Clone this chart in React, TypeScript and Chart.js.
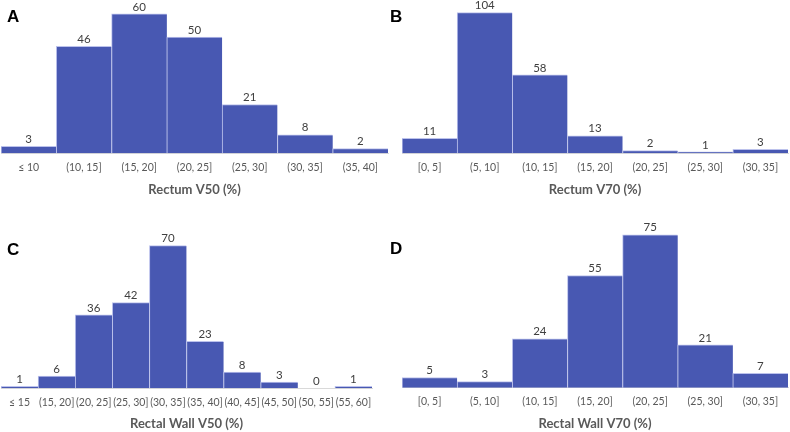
import React, { useEffect, useRef } from "react";
import { Chart, registerables } from "chart.js";

Chart.register(...registerables);

// ---- data ----
const catsA = ["≤ 10", "(10, 15]", "(15, 20]", "(20, 25]", "(25, 30]", "(30, 35]", "(35, 40]"];
const valsA = [3, 46, 60, 50, 21, 8, 2];

const catsB = ["[0, 5]", "(5, 10]", "(10, 15]", "(15, 20]", "(20, 25]", "(25, 30]", "(30, 35]"];
const valsB = [11, 104, 58, 13, 2, 1, 3];

const catsC = ["≤ 15", "(15, 20]", "(20, 25]", "(25, 30]", "(30, 35]", "(35, 40]", "(40, 45]", "(45, 50]", "(50, 55]", "(55, 60]"];
const valsC = [1, 6, 36, 42, 70, 23, 8, 3, 0, 1];

const catsD = ["[0, 5]", "(5, 10]", "(10, 15]", "(15, 20]", "(20, 25]", "(25, 30]", "(30, 35]"];
const valsD = [5, 3, 24, 55, 75, 21, 7];

const titleA = "Rectum V50 (%)";
const titleB = "Rectum V70 (%)";
const titleC = "Rectal Wall V50 (%)";
const titleD = "Rectal Wall V70 (%)";

// ---- style ----
const BAR = "#4858B2";
const BAR_EDGE = "#BCC2EC";
const AXIS = "#D9D9D9";
const TICK = "#595959";
const LABEL = "#404040";
const FONT = "Lato, 'Open Sans', sans-serif";

const W = 395;
const H = 216;

type PanelProps = {
  labels: string[];
  values: number[];
  title: string;
  left: number;
  top: number;
  yMax: number;
  padLeft: number;
  padRight: number;
  baseline: number; // y of baseline in canvas
  tickOff: number;
  titleOff: number;
};

const dataLabels = {
  id: "dataLabels",
  afterDatasetsDraw(chart: any) {
    const ctx = chart.ctx;
    const meta = chart.getDatasetMeta(0);
    const ds = chart.data.datasets[0];
    ctx.save();
    ctx.font = `11.5px ${FONT}`;
    ctx.fillStyle = LABEL;
    ctx.textAlign = "center";
    ctx.textBaseline = "middle";
    meta.data.forEach((el: any, i: number) => {
      ctx.fillText(String(ds.data[i]), el.x, el.y - 7);
    });
    ctx.restore();
  },
};

function Panel(p: PanelProps) {
  const ref = useRef<HTMLCanvasElement>(null);
  useEffect(() => {
    if (!ref.current) return;
    const axisH = H - p.baseline;
    const tickFont = 10.5;
    const tickLH = tickFont * 1.2;
    const titleFont = 13;
    const titleLH = titleFont * 1.2;
    const chart = new Chart(ref.current, {
      type: "bar",
      data: {
        labels: p.labels,
        datasets: [
          {
            data: p.values,
            backgroundColor: BAR,
            borderColor: BAR_EDGE,
            borderWidth: { top: 1, left: 1, right: 0, bottom: 0 },
            borderSkipped: false,
            barPercentage: 1,
            categoryPercentage: 1,
          },
        ],
      },
      options: {
        animation: false,
        responsive: false,
        devicePixelRatio: 1,
        layout: { padding: { left: p.padLeft, right: p.padRight, top: 0, bottom: 0 } },
        plugins: { legend: { display: false }, tooltip: { enabled: false } },
        scales: {
          y: { display: false, min: 0, max: p.yMax },
          x: {
            grid: { display: false, drawTicks: false },
            border: { display: true, color: AXIS, width: 1 },
            ticks: {
              autoSkip: false,
              maxRotation: 0,
              minRotation: 0,
              color: TICK,
              font: { family: FONT, size: tickFont },
              padding: p.tickOff - tickLH / 2,
            },
            title: {
              display: true,
              text: p.title,
              color: TICK,
              font: { family: FONT, size: titleFont, weight: "bold" },
              padding: { top: 0, bottom: Math.max(0, axisH - p.titleOff - titleLH / 2) },
            },
            afterFit: (axis: any) => {
              axis.height = axisH;
            },
          },
        },
      },
      plugins: [dataLabels],
    });
    return () => chart.destroy();
  }, []);
  return (
    <canvas
      ref={ref}
      width={W}
      height={H}
      style={{ position: "absolute", left: p.left, top: p.top, width: W, height: H }}
    />
  );
}

const letterStyle = (left: number, top: number): React.CSSProperties => ({
  position: "absolute",
  left,
  top,
  fontFamily: "'Liberation Sans', Arial, sans-serif",
  fontWeight: "bold",
  fontSize: 17,
  lineHeight: "17px",
  color: "#000",
});

export default function App() {
  return (
    <div style={{ position: "absolute", left: 0, top: 0, width: 790, height: 432, background: "#fff", overflow: "hidden" }}>
      <Panel labels={catsA} values={valsA} title={titleA} left={0} top={0} yMax={66} padLeft={1} padRight={7} baseline={153.3} tickOff={14.7} titleOff={36.7} />
      <Panel labels={catsB} values={valsB} title={titleB} left={395} top={0} yMax={113.3} padLeft={7} padRight={2} baseline={153.3} tickOff={14.7} titleOff={36.7} />
      <Panel labels={catsC} values={valsC} title={titleC} left={0} top={216} yMax={84.5} padLeft={1} padRight={23} baseline={172.3} tickOff={14.5} titleOff={37} />
      <Panel labels={catsD} values={valsD} title={titleD} left={395} top={216} yMax={84.2} padLeft={7} padRight={2} baseline={171.7} tickOff={13.5} titleOff={35.8} />
      <div style={letterStyle(7, 8)}>A</div>
      <div style={letterStyle(390, 8)}>B</div>
      <div style={letterStyle(7, 241)}>C</div>
      <div style={letterStyle(390, 240)}>D</div>
    </div>
  );
}
